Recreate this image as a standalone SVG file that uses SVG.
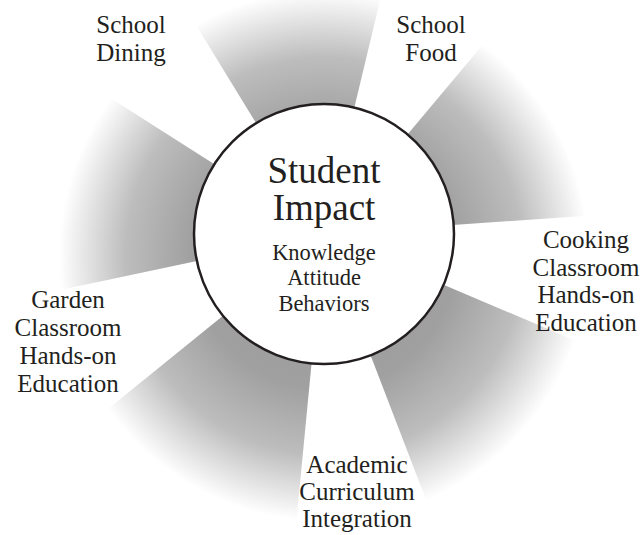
<svg xmlns="http://www.w3.org/2000/svg" width="644" height="535" viewBox="0 0 644 535">
  <defs>
    <radialGradient id="fade" gradientUnits="userSpaceOnUse" cx="324" cy="256" r="265">
      <stop offset="0" stop-color="#9a9a9a"/>
      <stop offset="0.5" stop-color="#a0a0a0"/>
      <stop offset="0.75" stop-color="#bdbdbd"/>
      <stop offset="1" stop-color="#ffffff"/>
    </radialGradient>
  </defs>
  <style>
    .wedge { fill: url(#fade); stroke: none; }
    .lbl { font-family: "Liberation Serif", "DejaVu Serif", serif; font-size: 25px; fill: #231f20; text-anchor: middle; }
    .title { font-family: "Liberation Serif", "DejaVu Serif", serif; font-size: 37px; fill: #231f20; text-anchor: middle; }
    .sub { font-family: "Liberation Serif", "DejaVu Serif", serif; font-size: 22.5px; fill: #231f20; text-anchor: middle; }
    .hub { fill: #ffffff; stroke: #231f20; stroke-width: 2.5; }
  </style>
  <rect width="644" height="535" fill="#ffffff"/>
  <g id="wedges">
    <path class="wedge" d="M324,234 L151.6,-47.4 A330,330 0 0 1 401.0,-86.9 Z"/>
    <path class="wedge" d="M324,234 L536.1,-18.8 A330,330 0 0 1 653.2,211.0 Z"/>
    <path class="wedge" d="M324,234 L627.8,362.9 A330,330 0 0 1 442.3,542.1 Z"/>
    <path class="wedge" d="M324,234 L292.4,562.5 A330,330 0 0 1 67.5,441.7 Z"/>
    <path class="wedge" d="M324,234 L1.2,302.6 A330,330 0 0 1 45.7,56.7 Z"/>
  </g>
  <g id="student-impact">
    <circle class="hub" cx="324" cy="234" r="130"/>
    <text class="title" x="324" y="183">Student</text>
    <text class="title" x="324" y="220">Impact</text>
    <text class="sub" x="324" y="260">Knowledge</text>
    <text class="sub" x="324" y="285">Attitude</text>
    <text class="sub" x="324" y="311">Behaviors</text>
  </g>
  <g id="school-dining">
    <text class="lbl" x="131" y="33">School</text>
    <text class="lbl" x="131" y="61">Dining</text>
  </g>
  <g id="school-food">
    <text class="lbl" x="431" y="33">School</text>
    <text class="lbl" x="431" y="61">Food</text>
  </g>
  <g id="cooking-classroom">
    <text class="lbl" x="586" y="248">Cooking</text>
    <text class="lbl" x="586" y="276">Classroom</text>
    <text class="lbl" x="586" y="303">Hands-on</text>
    <text class="lbl" x="586" y="331">Education</text>
  </g>
  <g id="academic-curriculum">
    <text class="lbl" x="357" y="473">Academic</text>
    <text class="lbl" x="357" y="500">Curriculum</text>
    <text class="lbl" x="357" y="527">Integration</text>
  </g>
  <g id="garden-classroom">
    <text class="lbl" x="68" y="308">Garden</text>
    <text class="lbl" x="68" y="336">Classroom</text>
    <text class="lbl" x="68" y="364">Hands-on</text>
    <text class="lbl" x="68" y="392">Education</text>
  </g>
</svg>
